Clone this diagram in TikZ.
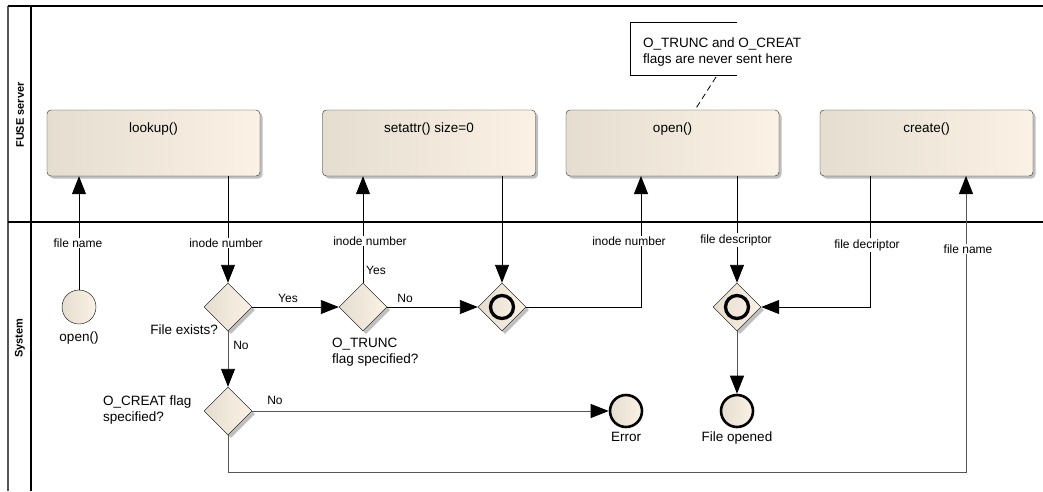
\documentclass[tikz,border=0pt]{standalone}
\usepackage{fontspec}
\setmainfont{Liberation Sans}
\usepackage{tikz}
\usetikzlibrary{arrows.meta,shapes.geometric,shadows}
\usepackage{xcolor}
\definecolor{beigeL}{RGB}{229,221,208}
\definecolor{beigeM}{RGB}{245,236,222}
\definecolor{beigeR}{RGB}{251,242,229}
\definecolor{linegray}{RGB}{85,85,85}

\begin{document}
\begin{tikzpicture}[x=1pt,y=-1pt]

\tikzset{fnbox/.style = {shape=rectangle,draw=black!85,rounded corners=4pt,minimum width=213pt,minimum height=66pt,left color=beigeL,middle color=beigeM,right color=beigeR,font=\fontsize{13.5}{16}\selectfont,text height=9pt,text depth=30pt,drop shadow={shadow xshift=2.5pt,shadow yshift=-2.5pt,fill=black!25,opacity=1}}}
\tikzset{choice/.style = {shape=diamond,draw,minimum width=48pt,minimum height=48pt,inner sep=0pt,left color=beigeL,middle color=beigeM,right color=beigeR,drop shadow={shadow xshift=3pt,shadow yshift=-3pt,fill=black!25,opacity=1}}}
\tikzset{mergenode/.style = {choice,path picture={\draw[line width=3.3pt] (path picture bounding box.center) circle (11.5pt);}}}
\tikzset{startnode/.style = {shape=circle,draw,minimum size=34pt,inner sep=0pt,left color=beigeL,right color=beigeR}}
\tikzset{endnode/.style = {startnode,line width=2.6pt,minimum size=32pt}}
\tikzset{lbl/.style = {fill=white,inner sep=1pt,font=\fontsize{12}{14}\selectfont}}
\tikzset{txt/.style = {inner sep=0pt,font=\fontsize{13.5}{16}\selectfont}}
\tikzset{lane/.style = {rotate=90,font=\bfseries\fontsize{11}{13}\selectfont}}
\tikzset{edge/.style = {draw,line width=0.9pt,-{Triangle[length=18pt,width=14pt,color=black]}}}

\useasboundingbox (0,0) rectangle (1043,491);

% lanes
\draw[line width=1.2pt,linegray] (8,491) -- (8,6);
\draw[line width=1.2pt] (31,491) -- (31,6);
\draw[line width=1.6pt] (8,6) -- (1043,6);
\draw[line width=1.2pt] (8,222) -- (1043,222);
\node[lane] (fuse) at (20,115) {FUSE server};
\node[lane] (sys) at (20,338) {System};

% FUSE server
\node[fnbox] (lookup) at (153.5,143) {lookup()};
\node[fnbox] (setattr) at (429,143) {setattr() size=0};
\node[fnbox] (openfn) at (672.5,143) {open()};
\node[fnbox] (create) at (926.5,143) {create()};

\node[txt,anchor=west,align=left] (note) at (643,52) {O\_TRUNC and O\_CREAT\\flags are never sent here};
\draw[line width=0.8pt] (737,22) -| (630,75) -- (737,75);
\coordinate (nt) at (716,77);

% System
\node[startnode] (start) at (79,307) {};
\node[txt] (startlbl) at (79,338) {open()};
\node[choice] (fexist) at (228,307) {};
\node[txt,anchor=east] (fexistlbl) at (218,330) {File exists?};
\node[choice] (trunc) at (363,307) {};
\node[txt,anchor=west,align=left] (trunclbl) at (332,352) {O\_TRUNC\\flag specified?};
\node[mergenode] (merge1) at (502,307) {};
\node[mergenode] (merge2) at (737,307) {};
\node[choice] (creat) at (228,411) {};
\node[txt,anchor=west,align=left] (creatlbl) at (103,410) {O\_CREAT flag\\specified?};
\node[endnode] (err) at (626,411) {};
\node[txt] (errlbl) at (626,437) {Error};
\node[endnode] (done) at (737,411) {};
\node[txt] (donelbl) at (737,438) {File opened};

\coordinate (openin) at (641,176);
\coordinate (createout) at (870,176);
\coordinate (createin) at (966,176);
\coordinate (bot) at (0,472);

%edges
\draw[dashed,dash pattern=on 6pt off 4pt,line width=0.8pt] (nt) to ([xshift=22.5pt]openfn.north);
\draw[edge] (start) to (start |- lookup.south);
\draw[edge] (fexist |- lookup.south) to (fexist);
\draw[edge] (fexist) to (trunc);
\draw[edge] (trunc) to (trunc |- setattr.south);
\draw[edge] (trunc) to (merge1);
\draw[edge] (merge1 |- setattr.south) to (merge1);
\draw[edge] (merge1.east) -| (openin);
\draw[edge] (merge2 |- openfn.south) to (merge2);
\draw[edge] (createout) |- (merge2.east);
\draw[edge,linegray] (merge2) to (done);
\draw[edge,linegray] (fexist) to (creat);
\draw[edge,linegray] (creat) to (err);
\draw[edge,linegray] (creat.south) -- (creat.south |- bot) -| (createin);

% connector labels
\node[lbl] (l1) at (78,243) {file name};
\node[lbl] (l2) at (226,243) {inode number};
\node[lbl] (l3) at (370,241) {inode number};
\node[lbl,fill=none,anchor=west] (l4) at (365,270) {Yes};
\node[lbl,fill=none] (l5) at (288,298) {Yes};
\node[lbl,fill=none] (l6) at (405,298) {No};
\node[lbl,fill=none] (l7) at (241,345) {No};
\node[lbl,fill=none] (l8) at (275,400) {No};
\node[lbl] (l9) at (629,241) {inode number};
\node[lbl] (l10) at (736,240) {file descriptor};
\node[lbl] (l11) at (867,245) {file decriptor};
\node[lbl] (l12) at (968,249) {file name};
\end{tikzpicture}
\end{document}
